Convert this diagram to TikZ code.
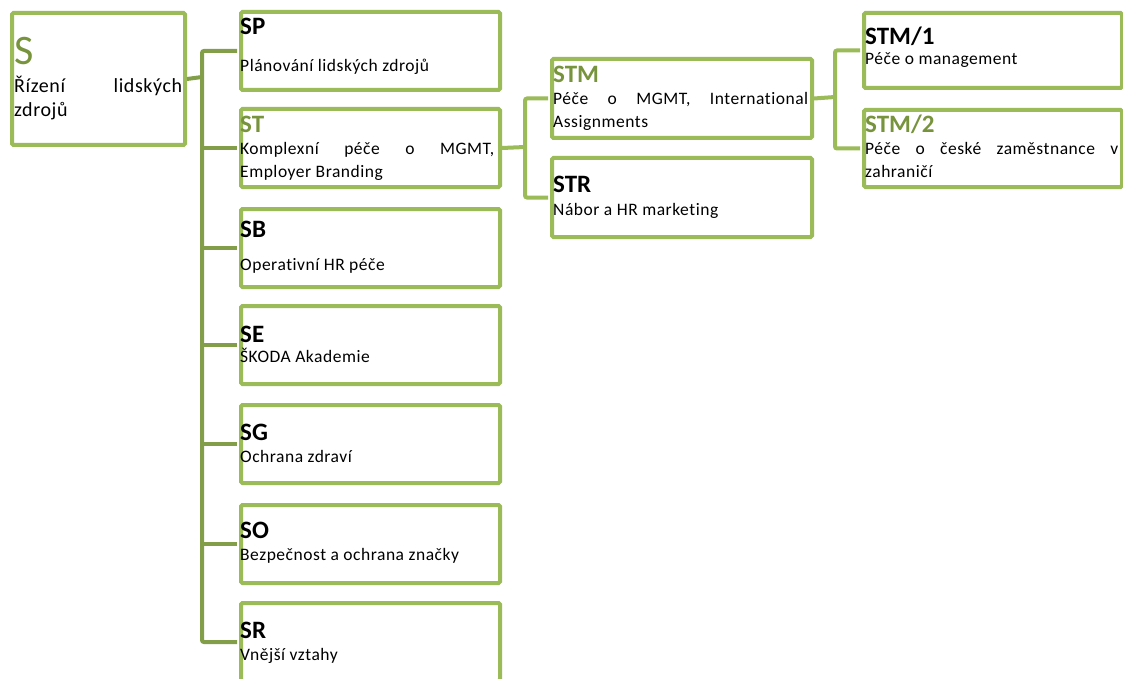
\documentclass[tikz,border=0pt]{standalone}
\usepackage{fontspec}
\setmainfont{Carlito}
\newfontfamily\bodyfont[LetterSpace=3,Ligatures=NoCommon]{Carlito}
\usetikzlibrary{positioning,calc}
\definecolor{OrgGreen}{RGB}{155,187,89}
\definecolor{OrgDark}{RGB}{130,158,72}
\definecolor{OrgText}{RGB}{119,147,60}
\hyphenpenalty=10000
\tolerance=9999
\tikzset{
  unit/.style={draw=OrgGreen,fill=white,line width=4pt,rounded corners=1.5pt,anchor=north west,
    minimum width=259pt,minimum height=78pt,inner sep=0pt},
  code/.style={anchor=base west,inner sep=0pt,font=\fontsize{25}{28}\selectfont\bfseries},
  desc/.style={anchor=base west,inner sep=0pt,text width=254pt,align=justify,
    font=\bodyfont\fontsize{17.5}{22.5}\selectfont},
  link/.style={draw=OrgGreen,line width=4pt,rounded corners=2pt},
  spine/.style={draw=OrgDark,line width=4pt,rounded corners=2pt},
}

\begin{document}
\begin{tikzpicture}[x=1pt,y=-1pt]
  \useasboundingbox[fill=white] (0,0) rectangle (1123,679);
  % root
  \node[unit,minimum width=173pt,minimum height=132pt] (s) at (10,11) {};
  \node[anchor=base west,inner sep=0pt,font=\fontsize{42}{42}\selectfont,text=OrgText] (s-c) at (14,65) {S};
  \node[desc,text width=168pt,font=\bodyfont\fontsize{20}{24}\selectfont] (s-d) at (14,93) {Řízení lidských\linebreak zdrojů};
  % first level
  \foreach \n/\top/\code/\col/\tb/\bb/\txt in {
      sp/10/SP/black/35/72/{Plánování lidských zdrojů},
      st/107/ST/OrgText/133/155/{Komplexní péče o MGMT,\linebreak Employer Branding},
      sb/207/SB/black/237/270/{Operativní HR péče},
      se/304/SE/black/342/362/{ŠKODA Akademie},
      sg/403/SG/black/440/462/{Ochrana zdraví},
      so/503/SO/black/538/560/{Bezpečnost a ochrana značky},
      sr/601/SR/black/638/660/{Vnější vztahy}} {
    \node[unit] (\n) at (239,\top) {};
    \node[code,text=\col] (\n-c) at (240,\tb) {\code};
    \node[desc] (\n-d) at (240,\bb) {\txt};
  }
  % second level
  \node[unit,minimum width=260pt,minimum height=79pt] (stm) at (550,57) {};
  \node[code,text=OrgText] (stm-c) at (553,83) {STM};
  \node[desc,text width=255pt] (stm-d) at (553,105) {Péče o MGMT, International\linebreak Assignments};
  \node[unit,minimum width=260pt,minimum height=79pt] (str) at (550,156) {};
  \node[code] (str-c) at (553,192) {STR};
  \node[desc] (str-d) at (553,215) {Nábor a HR marketing};
  % third level
  \node[unit,minimum width=258pt,minimum height=75pt] (stm1) at (862,11) {};
  \node[code] (stm1-c) at (865,45) {STM/1};
  \node[desc] (stm1-d) at (865,65) {Péče o management};
  \node[unit,minimum width=258pt,minimum height=77pt] (stm2) at (862,108) {};
  \node[code,text=OrgText] (stm2-c) at (865,133) {STM/2};
  \node[desc,text width=253pt] (stm2-d) at (865,155) {Péče o české zaměstnance v\linebreak zahraničí};
  % connectors
  \coordinate (lj) at (202,77);
  \coordinate (tj) at (525,147);
  \coordinate (mj) at (835,97);
  \draw[spine] (s.east) -- (lj);
  \draw[spine,shorten <=2pt,shorten >=2pt] (sp.west) -| (lj) |- (sr.west);
  \foreach \n in {st,sb,se,sg,so} {\draw[spine,shorten >=2pt] (\n.west -| lj) -- (\n.west);}
  \draw[link] (st.east) -- (tj);
  \draw[link,shorten <=2pt,shorten >=2pt] (stm.west) -| (tj) |- (str.west);
  \draw[link] (stm.east) -- (mj);
  \draw[link,shorten <=2pt,shorten >=2pt] (stm1.west) -| (mj) |- (stm2.west);
\end{tikzpicture}
\end{document}
